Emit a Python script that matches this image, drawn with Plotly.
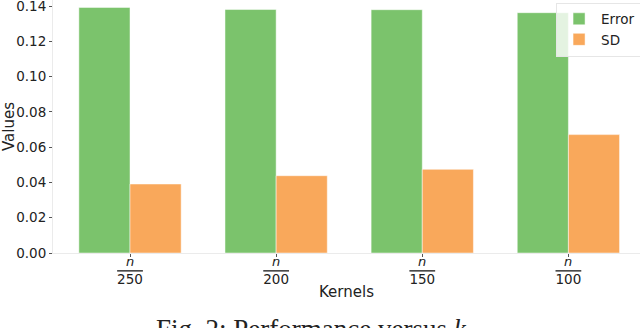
import plotly.graph_objects as go

# values
kernels = ["250", "200", "150", "100"]
error = [0.1392, 0.1380, 0.1379, 0.1362]
sd = [0.0391, 0.0438, 0.0474, 0.0671]
y_ticks = [0.00, 0.02, 0.04, 0.06, 0.08, 0.10, 0.12, 0.14]

GREEN = "#7bc36c"
ORANGE = "#f9a85b"
FONT = "DejaVu Sans, sans-serif"

x = list(range(len(kernels)))
# denominators are the tick labels, the fraction bar is an overline
tick_text = [f"<span style='text-decoration:overline'>{k}</span>" for k in kernels]

fig = go.Figure()
fig.add_trace(go.Bar(
    x=x, y=error, name="Error",
    marker=dict(color=GREEN, line=dict(color="rgba(255,255,255,0.6)", width=0.8)),
))
fig.add_trace(go.Bar(
    x=x, y=sd, name="SD",
    marker=dict(color=ORANGE, line=dict(color="rgba(255,255,255,0.6)", width=0.8)),
))

fig.update_layout(
    width=640, height=328,
    barmode="group", bargap=0.3, bargroupgap=0,
    plot_bgcolor="white", paper_bgcolor="white",
    font=dict(family=FONT, size=13.5, color="#222222"),
    margin=dict(l=53, r=0, t=0, b=75, autoexpand=False),
    legend=dict(
        x=0.857, y=0.99, xanchor="left", yanchor="top",
        bgcolor="rgba(255,255,255,0.8)",
        bordercolor="#e6e6e6", borderwidth=1,
        font=dict(size=13.5), tracegroupgap=0,
        itemwidth=34,
    ),
    showlegend=True,
)

fig.update_xaxes(
    range=[-0.527, 3.49], automargin=False,
    tickmode="array", tickvals=x, ticktext=tick_text,
    ticklabelstandoff=11,
    showline=True, linecolor="#ebebeb", linewidth=1,
    ticks="outside", ticklen=3, tickcolor="#555555",
    showgrid=False, zeroline=False,
    tickfont=dict(size=13.5),
    title=dict(text="Kernels", font=dict(size=15), standoff=0),
)
fig.update_yaxes(
    range=[0, 0.1434], automargin=False,
    tickmode="array", tickvals=y_ticks,
    ticktext=[f"{v:.2f}" for v in y_ticks],
    ticklabeloverflow="allow",
    showline=True, linecolor="#ebebeb", linewidth=1,
    ticks="outside", ticklen=3, tickcolor="#555555",
    showgrid=False, zeroline=False,
    tickfont=dict(size=13.5),
    title=dict(text="Values", font=dict(size=15), standoff=3),
)

# numerators of the n/k tick fractions
for xi in x:
    fig.add_annotation(
        text="<i>n</i>", x=xi, xref="x", y=0, yref="paper",
        xanchor="center", yanchor="top", yshift=1, showarrow=False,
        font=dict(size=13),
    )

# figure caption, cut off at the bottom edge as in the source
fig.add_annotation(
    text="Fig. 2: Performance versus <i>k</i>",
    xref="paper", yref="paper", x=0.441, y=-0.235,
    xanchor="center", yanchor="top", showarrow=False,
    font=dict(family="Liberation Serif, Times New Roman, serif", size=27, color="#222222"),
)

# drop the default page margin so the figure sits at the window corner
fig.write_html(
    "out.html",
    config={"displayModeBar": False},
    post_script="document.body.style.margin='0';",
)
